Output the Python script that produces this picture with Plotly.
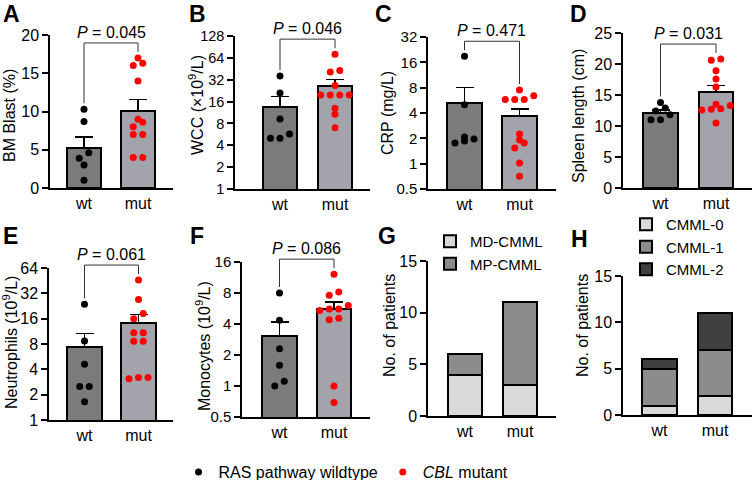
import numpy as np
import plotly.graph_objects as go

# ---------------- data ----------------
groups = ["wt", "mut"]

blast_wt = [10.3, 8.7, 4.6, 3.9, 3.0, 1.0]
blast_mut = [17.0, 16.3, 16.0, 14.0, 9.0, 8.6, 8.0, 7.0, 7.0, 4.0, 4.0]
wcc_wt = [36, 21, 9.2, 5.7, 5.0, 5.0]
wcc_mut = [72, 43, 41, 26.7, 19.7, 19.7, 19.7, 19.7, 12.9, 10.7, 7.0]
crp_wt = [18.9, 5.0, 2.07, 1.96, 1.86, 1.76]
crp_mut = [7.5, 6.4, 5.8, 5.8, 5.8, 2.25, 1.91, 1.76, 1.54, 1.02, 0.71]
spleen_wt = [13.8, 12.9, 12.4, 11.8, 11.0, 11.0]
spleen_mut = [20.8, 20.6, 18.9, 17.6, 16.3, 13.5, 13.3, 12.8, 12.7, 12.6, 10.5]
neut_wt = [23.7, 8.7, 4.6, 2.5, 2.5, 1.65]
neut_mut = [46, 27, 18.4, 16, 10.9, 10.9, 8.6, 8.6, 3.2, 3.2, 3.1]
mono_wt = [8.0, 4.35, 2.3, 1.59, 1.11, 1.0]
mono_mut = [12.2, 8.2, 7.6, 6.06, 5.6, 5.6, 5.4, 4.56, 4.4, 1.0, 0.69]

p_values = ["0.045", "0.046", "0.471", "0.031", "0.061", "0.086"]

titles = ["BM Blast (%)", "WCC (\u00d710<sup>9</sup>/L)", "CRP (mg/L)",
          "Spleen length (cm)", "Neutrophils (10<sup>9</sup>/L)",
          "Monocytes (10<sup>9</sup>/L)", "No. of patients", "No. of patients"]

lin_ticks_A = [0, 5, 10, 15, 20]
log_ticks_B = [1, 2, 4, 8, 16, 32, 64, 128]
log_ticks_C = [0.5, 1, 2, 4, 8, 16, 32]
lin_ticks_D = [0, 5, 10, 15, 20, 25]
log_ticks_E = [1, 2, 4, 8, 16, 32, 64]
log_ticks_F = [0.5, 1, 2, 4, 8, 16]
count_ticks = [0, 5, 10, 15]

subtype_names = ["MD-CMML", "MP-CMML"]
subtype_wt = [4, 2]
subtype_mut = [3, 8]
grade_names = ["CMML-0", "CMML-1", "CMML-2"]
grade_wt = [1, 4, 1]
grade_mut = [2, 5, 4]

letters = ["A", "B", "C", "D", "E", "F", "G", "H"]

# ---------------- layout / style ----------------
W, H = 754, 480
FONT = "Liberation Sans, Arial, Helvetica, sans-serif"
WT_BAR, MUT_BAR = "#7b7b7b", "#a3a3ab"
STACK_COLS = ["#d9d9d9", "#8c8c8c", "#404040"]

# pixel frame of each panel: y-axis x, x-axis right end, top tick y, baseline y, wt centre, spacing
frames = [
    dict(L=50, R=173, top=35, bot=188, c0=84, s=54),
    dict(L=235, R=370, top=36, bot=189, c0=280, s=55),
    dict(L=428, R=556, top=37, bot=189, c0=464.5, s=55),
    dict(L=623, R=752, top=33, bot=188, c0=660.5, s=55.5),
    dict(L=49, R=173, top=268, bot=420, c0=84.5, s=54),
    dict(L=242, R=370, top=262, bot=417, c0=279.5, s=54.5),
    dict(L=428, R=556, top=261, bot=416, c0=465, s=55),
    dict(L=623, R=752, top=276, bot=415, c0=659.5, s=55.5),
]
tick_sizes = [16, 14.5, 15, 16, 16, 15, 16, 16]
letter_pos = [(11, 14), (198, 14), (383, 14), (578, 14),
              (10, 236), (197, 236), (387, 236), (579, 239)]
title_pos = [(9, 116), (196, 105), (388, 113), (578, 116),
             (10, 343), (203, 346), (389, 325), (582, 326)]

scatter_panels = [
    (blast_wt, blast_mut, False, lin_ticks_A),
    (wcc_wt, wcc_mut, True, log_ticks_B),
    (crp_wt, crp_mut, True, log_ticks_C),
    (spleen_wt, spleen_mut, False, lin_ticks_D),
    (neut_wt, neut_mut, True, log_ticks_E),
    (mono_wt, mono_mut, True, log_ticks_F),
]

fig = go.Figure()


def sfx(k):
    return "" if k == 1 else str(k)


def fmt(v):
    return ("%g" % v)


def y_to_px_factory(ticks, is_log, fr):
    lo, hi = ticks[0], ticks[-1]
    span_px = fr["bot"] - fr["top"]
    if is_log:
        a, b = np.log10(lo), np.log10(hi)
        return (lambda v: (np.log10(v) - a) * span_px / (b - a)), \
               (lambda px: 10 ** (a + px * (b - a) / span_px))
    return (lambda v: (v - lo) * span_px / (hi - lo)), \
           (lambda px: lo + px * (hi - lo) / span_px)


def swarm(vals, to_px, spacing, row_px=5.5, step_px=9.5):
    vals = np.asarray(vals, float)
    ypx = np.array([to_px(v) for v in vals])
    order = np.argsort(ypx)
    offs = np.zeros(len(vals))
    grp = []
    start = None

    def flush(g):
        n = len(g)
        for j, idx in enumerate(g):
            offs[idx] = (j - (n - 1) / 2) * step_px / spacing

    for idx in order:
        if start is None or ypx[idx] - start >= row_px:
            if grp:
                flush(grp)
            grp = [idx]
            start = ypx[idx]
        else:
            grp.append(idx)
    if grp:
        flush(grp)
    return offs


layout_axes = {}
annotations = []

for i, fr in enumerate(frames):
    k = i + 1
    xd = [fr["L"] / W, fr["R"] / W]
    yd = [1 - fr["bot"] / H, 1 - fr["top"] / H]
    xr = [(fr["L"] - fr["c0"]) / fr["s"], (fr["R"] - fr["c0"]) / fr["s"]]
    if i < 6:
        wt, mut, is_log, ticks = scatter_panels[i]
    else:
        is_log, ticks = False, count_ticks
    yr = [np.log10(ticks[0]), np.log10(ticks[-1])] if is_log else [ticks[0], ticks[-1]]

    layout_axes["xaxis" + sfx(k)] = dict(
        domain=xd, range=xr, anchor="y" + sfx(k), tickmode="array",
        tickvals=[0, 1], ticktext=groups, ticks="", showline=True,
        linecolor="black", linewidth=1.5, showgrid=False, zeroline=False,
        tickfont=dict(size=16, color="black", family=FONT), fixedrange=True,
        automargin=False)
    layout_axes["yaxis" + sfx(k)] = dict(
        domain=yd, range=yr, type="log" if is_log else "linear",
        anchor="x" + sfx(k), tickmode="array", tickvals=ticks,
        ticktext=[fmt(t) for t in ticks], ticks="outside", ticklen=6,
        tickwidth=1.5, tickcolor="black", showline=True, linecolor="black",
        linewidth=1.5, showgrid=False, zeroline=False,
        tickfont=dict(size=tick_sizes[i], color="black", family=FONT),
        fixedrange=True, automargin=False)

    annotations.append(dict(text="<b>%s</b>" % letters[i], x=letter_pos[i][0] / W,
                            y=1 - letter_pos[i][1] / H, xref="paper", yref="paper",
                            xanchor="center", yanchor="middle", showarrow=False,
                            font=dict(size=23, color="black", family=FONT)))
    annotations.append(dict(text=titles[i], x=title_pos[i][0] / W,
                            y=1 - title_pos[i][1] / H, xref="paper", yref="paper",
                            xanchor="center", yanchor="middle", textangle=-90,
                            showarrow=False,
                            font=dict(size=16, color="black", family=FONT)))

    xa, ya = "x" + sfx(k), "y" + sfx(k)
    if i < 6:
        means = [float(np.mean(wt)), float(np.mean(mut))]
        sems = [float(np.std(wt, ddof=1) / np.sqrt(len(wt))),
                float(np.std(mut, ddof=1) / np.sqrt(len(mut)))]
        fig.add_trace(go.Bar(
            x=[0, 1], y=means, width=0.63, xaxis=xa, yaxis=ya,
            marker=dict(color=[WT_BAR, MUT_BAR], line=dict(color="black", width=2)),
            error_y=dict(type="data", symmetric=False, array=sems, arrayminus=[0, 0],
                         color="black", thickness=1.5, width=9),
            showlegend=False, hoverinfo="skip"))
        to_px, from_px = y_to_px_factory(ticks, is_log, fr)
        for gi, (vals, col, name) in enumerate([(wt, "black", "RAS pathway wildtype"),
                                                 (mut, "#ff0000", "<i>CBL</i> mutant")]):
            offs = swarm(vals, to_px, fr["s"])
            fig.add_trace(go.Scatter(
                x=gi + offs, y=vals, mode="markers", xaxis=xa, yaxis=ya,
                marker=dict(size=7, color=col), cliponaxis=False,
                name=name, showlegend=(i == 0), legend="legend", hoverinfo="skip"))

        # significance bracket on an invisible companion subplot sharing the same scale
        kc = k + 8
        ext_top = max(fr["top"] - 40, 0)
        span_px = fr["bot"] - fr["top"]
        extra = (fr["top"] - ext_top) / span_px
        yr_c = [yr[0], yr[1] + (yr[1] - yr[0]) * extra]
        layout_axes["xaxis%d" % kc] = dict(domain=xd, range=xr, visible=False,
                                           anchor="y%d" % kc, fixedrange=True)
        layout_axes["yaxis%d" % kc] = dict(domain=[yd[0], 1 - ext_top / H], range=yr_c,
                                           type="log" if is_log else "linear",
                                           visible=False, anchor="x%d" % kc, fixedrange=True)
        tops = [max(max(wt), means[0] + sems[0]), max(max(mut), means[1] + sems[1])]
        legs = [from_px(to_px(t) + 6) for t in tops]
        top = from_px(to_px(max(tops)) + 15)
        fig.add_trace(go.Scatter(
            x=[0, 0, 1, 1], y=[legs[0], top, top, legs[1]], mode="lines",
            xaxis="x%d" % kc, yaxis="y%d" % kc, line=dict(color="#333333", width=1),
            showlegend=False, hoverinfo="skip"))
        annotations.append(dict(
            text="<i>P</i> = %s" % p_values[i], x=0.5,
            y=float(np.log10(top)) if is_log else top,
            xref="x%d" % kc, yref="y%d" % kc, xanchor="center", yanchor="bottom",
            showarrow=False, yshift=0, font=dict(size=16, color="black", family=FONT)))
    else:
        if i == 6:
            names, wv, mv, lg = subtype_names, subtype_wt, subtype_mut, "legend2"
        else:
            names, wv, mv, lg = grade_names, grade_wt, grade_mut, "legend3"
        for j, nm in enumerate(names):
            fig.add_trace(go.Bar(
                x=[0, 1], y=[wv[j], mv[j]], width=0.63, xaxis=xa, yaxis=ya,
                name=nm, legend=lg,
                marker=dict(color=STACK_COLS[j], line=dict(color="black", width=2)),
                hoverinfo="skip"))

leg_font = dict(size=16, color="black", family=FONT)
small_leg_font = dict(size=15, color="black", family=FONT)
fig.update_layout(
    width=W, height=H, margin=dict(l=0, r=0, t=0, b=0, autoexpand=False),
    paper_bgcolor="white", plot_bgcolor="rgba(0,0,0,0)", barmode="stack",
    font=dict(family=FONT, color="black", size=16),
    annotations=annotations,
    legend=dict(orientation="h", x=346 / W, xanchor="center", y=1 - 472 / H,
                yanchor="middle", font=leg_font, bgcolor="rgba(0,0,0,0)",
                traceorder="normal"),
    legend2=dict(x=430 / W, xanchor="left", y=1 - 225 / H, yanchor="top",
                 traceorder="normal", font=small_leg_font, bgcolor="rgba(0,0,0,0)",
                 tracegroupgap=0),
    legend3=dict(x=626 / W, xanchor="left", y=1 - 208 / H, yanchor="top",
                 traceorder="normal", font=small_leg_font, bgcolor="rgba(0,0,0,0)",
                 tracegroupgap=0),
    **layout_axes,
)

fig.write_html("out.html", config={"displayModeBar": False},
               post_script="document.body.style.margin='0px';"
                           "document.body.style.overflow='hidden';")
